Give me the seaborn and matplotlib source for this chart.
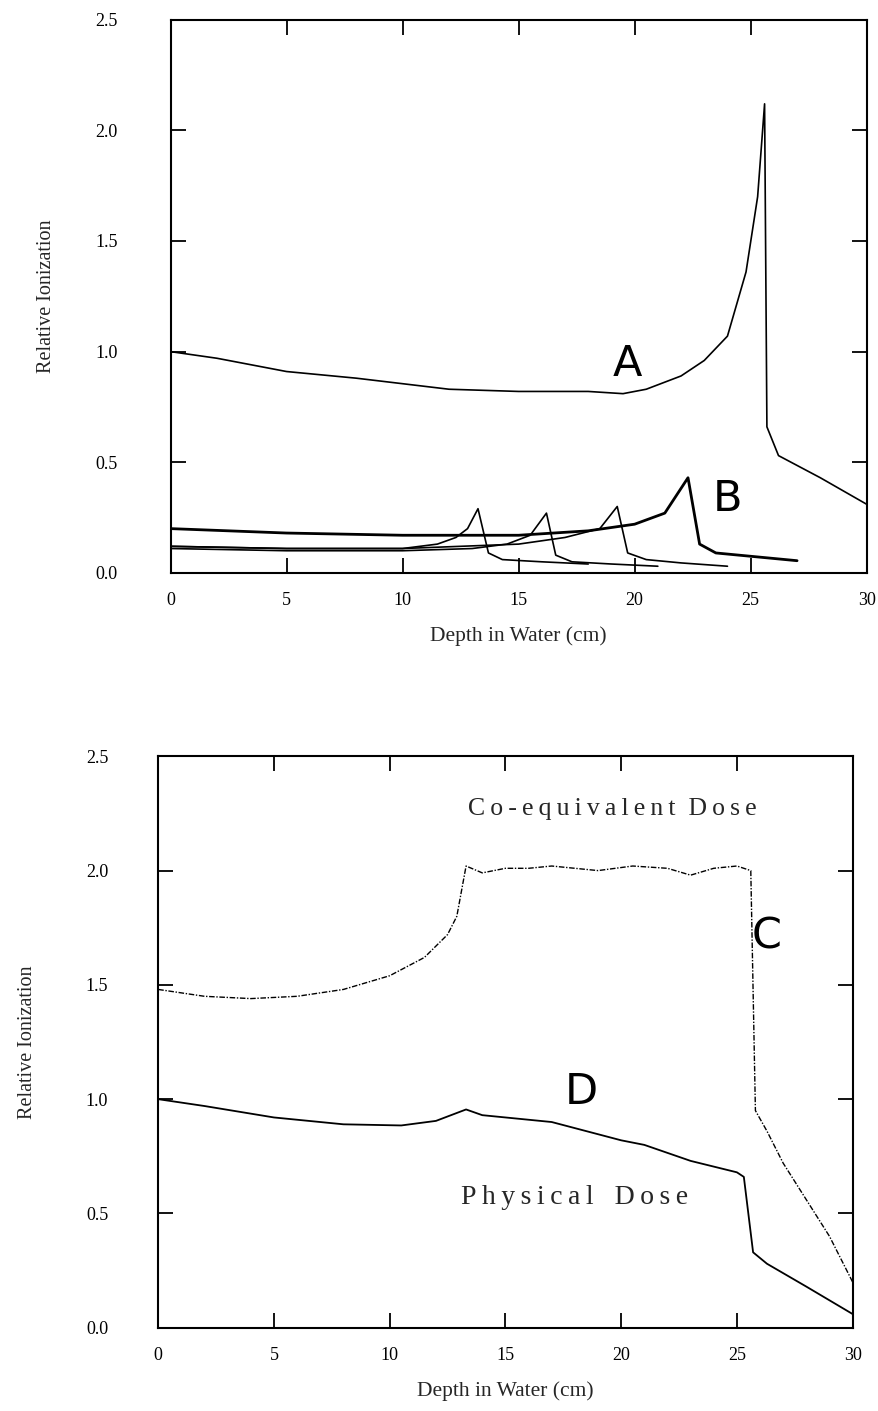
import numpy as np
import pandas as pd
import matplotlib
matplotlib.use("Agg")
import matplotlib.pyplot as plt
import seaborn as sns

# ---- top panel: curve A (total) and the four single peaks B
a_depth = [0, 2, 5, 8, 10, 12, 15, 18, 19.5, 20.5, 22, 23, 24, 24.8, 25.3, 25.6, 25.7, 26.2, 28, 30]
a_ion = [1.0, 0.97, 0.91, 0.88, 0.855, 0.83, 0.82, 0.82, 0.81, 0.83, 0.89, 0.96, 1.07, 1.36, 1.7, 2.12, 0.66, 0.53, 0.43, 0.31]

b1_depth = [0, 5, 10, 11.5, 12.3, 12.8, 13.25, 13.7, 14.3, 16, 18]
b1_ion = [0.12, 0.11, 0.11, 0.13, 0.16, 0.2, 0.29, 0.09, 0.06, 0.05, 0.04]
b2_depth = [0, 5, 10, 13, 14.5, 15.5, 16.2, 16.6, 17.3, 19, 21]
b2_ion = [0.11, 0.10, 0.10, 0.11, 0.13, 0.17, 0.27, 0.08, 0.05, 0.04, 0.03]
b3_depth = [0, 5, 10, 15, 17, 18.5, 19.25, 19.7, 20.5, 22, 24]
b3_ion = [0.12, 0.11, 0.11, 0.13, 0.16, 0.2, 0.30, 0.09, 0.06, 0.045, 0.03]
b4_depth = [0, 5, 10, 15, 18, 20, 21.3, 22.3, 22.8, 23.5, 25, 27]
b4_ion = [0.20, 0.18, 0.17, 0.17, 0.19, 0.22, 0.27, 0.43, 0.13, 0.09, 0.075, 0.055]

# ---- bottom panel: C (Co-equivalent dose) and D (physical dose)
c_depth = [0, 2, 4, 6, 8, 10, 11.5, 12.5, 12.9, 13.3, 14, 15, 16, 17, 18, 19, 20.5, 22, 23, 24, 25, 25.6, 25.8, 26.3, 27, 28, 29, 30]
c_ion = [1.48, 1.45, 1.44, 1.45, 1.48, 1.54, 1.62, 1.72, 1.8, 2.02, 1.99, 2.01, 2.01, 2.02, 2.01, 2.0, 2.02, 2.01, 1.98, 2.01, 2.02, 2.0, 0.95, 0.86, 0.72, 0.56, 0.4, 0.2]
d_depth = [0, 2, 5, 8, 10.5, 12, 13.3, 14, 17, 20, 21, 23, 25, 25.3, 25.7, 26.3, 28, 30]
d_ion = [1.0, 0.97, 0.92, 0.89, 0.885, 0.905, 0.955, 0.93, 0.9, 0.82, 0.8, 0.73, 0.68, 0.66, 0.33, 0.28, 0.18, 0.06]

x_ticks = [0, 5, 10, 15, 20, 25, 30]
y_ticks = [0.0, 0.5, 1.0, 1.5, 2.0, 2.5]

sns.set_style("ticks")
plt.rcParams['font.family'] = ['Liberation Serif', 'DejaVu Serif']

fig = plt.figure(figsize=(8.79, 14.11), dpi=100)
ax1 = fig.add_axes([0.194, 0.594, 0.792, 0.392])
ax2 = fig.add_axes([0.180, 0.059, 0.790, 0.405])

letter_font = dict(family=['DejaVu Sans'], fontsize=31, color='black')


def spaced(s):
    # wide letter spacing like the typeset labels
    return '\u2009'.join(s)


def style_axes(ax, ypad, xpad):
    ax.set_xlim(0, 30)
    ax.set_ylim(0, 2.5)
    ax.set_xticks(x_ticks)
    ax.set_yticks(y_ticks)
    ax.set_xticklabels([str(t) for t in x_ticks])
    ax.set_yticklabels([f"{t:.1f}" for t in y_ticks])
    ax.tick_params(direction='in', length=11, width=1.3, top=True, right=True,
                   labelsize=13, colors='black')
    ax.tick_params(axis='y', pad=ypad)
    ax.tick_params(axis='x', pad=xpad)
    for s in ax.spines.values():
        s.set_visible(True)
        s.set_linewidth(1.5)
        s.set_color('black')
    ax.set_xlabel('Depth in Water (cm)', fontsize=15.5, labelpad=12)
    ax.set_ylabel('Relative Ionization', fontsize=14.5)


# top panel
sns.lineplot(x=a_depth, y=a_ion, ax=ax1, color='black', lw=1.2, sort=False, estimator=None)
for dd, ii, w in [(b1_depth, b1_ion, 1.2), (b2_depth, b2_ion, 1.2),
                  (b3_depth, b3_ion, 1.2), (b4_depth, b4_ion, 2.0)]:
    sns.lineplot(x=dd, y=ii, ax=ax1, color='black', lw=w, sort=False, estimator=None)
style_axes(ax1, 38, 14)
ax1.yaxis.set_label_coords(-0.165, 0.5)
ax1.text(19.7, 0.85, 'A', ha='center', va='bottom', **letter_font)
ax1.text(24.0, 0.24, 'B', ha='center', va='bottom', **letter_font)

# bottom panel
sns.lineplot(x=c_depth, y=c_ion, ax=ax2, color='black', lw=1.0, sort=False, estimator=None,
             linestyle=(0, (4, 1.2, 1, 1.2)))
sns.lineplot(x=d_depth, y=d_ion, ax=ax2, color='black', lw=1.3, sort=False, estimator=None)
style_axes(ax2, 36, 14)
ax2.yaxis.set_label_coords(-0.175, 0.5)
ax2.text(19.6, 2.27, spaced('Co-equivalent') + '  ' + spaced('Dose'),
         ha='center', va='center', fontsize=18.5)
ax2.text(18.0, 0.57, spaced('Physical') + '   ' + spaced('Dose'),
         ha='center', va='center', fontsize=20)
ax2.text(26.3, 1.62, 'C', ha='center', va='bottom', **letter_font)
ax2.text(18.3, 0.94, 'D', ha='center', va='bottom', **letter_font)

fig.savefig('out.png', dpi=100)
